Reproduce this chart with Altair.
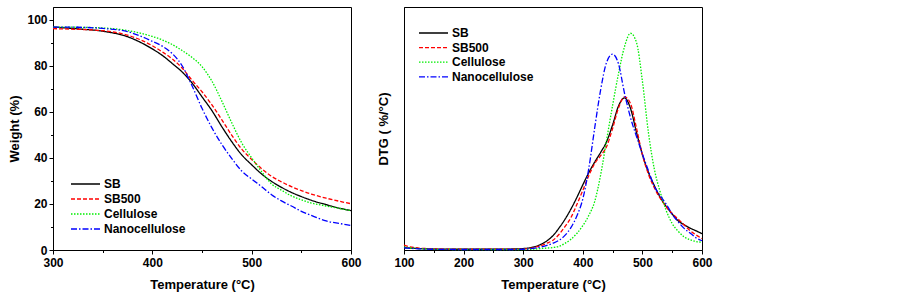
import altair as alt
import pandas as pd

# ---------------- data ----------------
series_names = ["SB", "SB500", "Cellulose", "Nanocellulose"]
series_colors = ["#000000", "#ff0000", "#00ee00", "#0000ff"]
series_dashes = [[1, 0], [4, 2], [1.5, 1.5], [6, 2, 1.5, 2]]

# TGA (left panel)
tga_temp = [300, 325, 350, 375, 400, 410, 420, 430, 440, 450, 460, 470, 480,
            490, 500, 510, 520, 530, 540, 550, 560, 575, 590, 600]
tga_sb = [96.8, 96.0, 95.0, 92.6, 87.3, 84.5, 81.0, 77.3, 72.5, 66.5, 60.5, 53.5,
          47.0, 41.3, 37.0, 33.0, 29.8, 27.2, 25.0, 23.2, 21.6, 19.7, 18.0, 17.1]
tga_sb500 = [96.1, 95.8, 95.2, 93.3, 88.7, 86.0, 83.0, 79.0, 73.7, 68.7, 63.0, 56.5,
             49.8, 43.8, 39.3, 35.3, 32.0, 29.6, 27.5, 25.8, 24.3, 22.5, 21.0, 20.1]
tga_cell = [96.8, 96.7, 96.4, 95.3, 92.7, 91.2, 89.2, 86.6, 83.6, 79.6, 73.3, 64.6,
            55.2, 46.5, 40.0, 34.0, 28.7, 26.0, 23.5, 21.8, 20.4, 19.1, 17.9, 17.1]
tga_nano = [96.8, 96.7, 96.2, 94.8, 90.6, 88.5, 85.3, 80.0, 71.3, 61.5, 53.0, 45.8,
            39.7, 34.3, 30.8, 27.5, 24.0, 21.3, 19.1, 16.8, 15.0, 12.6, 11.4, 10.6]

# DTG (right panel, arbitrary units)
dtg_temp = [100, 110, 125, 150, 200, 250, 280, 300, 320, 340, 350, 360, 370, 380,
            390, 400, 410, 420, 430, 440, 450, 460, 470, 480, 490, 500, 510, 520,
            530, 540, 550, 560, 570, 580, 590, 600]
dtg_sb = [0.9, 0.8, 0.6, 0.4, 0.3, 0.3, 0.4, 0.6, 1.4, 3.8, 5.9, 9.0, 12.6, 16.8,
          21.6, 26.8, 31.8, 36.2, 40.2, 44.6, 51.5, 59.3, 62.6, 58.3, 48.5, 39.3,
          32.0, 26.5, 21.6, 17.9, 14.8, 12.0, 10.4, 9.0, 7.9, 6.7]
dtg_sb500 = [2.0, 1.3, 0.8, 0.5, 0.3, 0.3, 0.3, 0.4, 1.1, 2.8, 4.0, 6.4, 9.6, 13.3,
             18.7, 24.5, 30.6, 35.6, 38.8, 42.6, 50.0, 58.5, 63.0, 60.3, 50.2, 39.2,
             31.3, 25.6, 21.2, 17.8, 15.0, 12.7, 10.3, 8.0, 6.2, 4.7]
dtg_cell = [1.3, 0.9, 0.6, 0.3, 0.2, 0.2, 0.2, 0.2, 0.4, 0.8, 1.0, 1.5, 2.7, 4.4,
            6.8, 10.0, 14.2, 20.0, 31.0, 45.4, 59.5, 72.7, 83.7, 89.2, 85.5, 69.5,
            48.5, 33.3, 23.8, 16.2, 10.9, 7.7, 5.4, 4.2, 3.5, 3.2]
dtg_nano = [0.9, 0.7, 0.5, 0.3, 0.2, 0.2, 0.2, 0.3, 0.8, 1.9, 2.8, 4.0, 6.0, 9.2,
            14.0, 21.0, 33.5, 50.3, 66.0, 77.3, 80.6, 76.5, 64.5, 54.5, 46.8, 39.5,
            32.7, 26.2, 22.3, 18.9, 14.7, 11.6, 8.9, 7.0, 5.0, 3.8]


def long_df(temps, lists):
    rows = []
    for name, vals in zip(series_names, lists):
        for t, v in zip(temps, vals):
            rows.append({"T": t, "v": v, "series": name})
    return pd.DataFrame(rows)


tga_df = long_df(tga_temp, [tga_sb, tga_sb500, tga_cell, tga_nano])
dtg_df = long_df(dtg_temp, [dtg_sb, dtg_sb500, dtg_cell, dtg_nano])

FONT = "Liberation Sans"
color_scale = alt.Scale(domain=series_names, range=series_colors)
dash_scale = alt.Scale(domain=series_names, range=series_dashes)


def legend(x, y, row_pad):
    return alt.Legend(
        title=None, orient="none", legendX=x, legendY=y, padding=0,
        symbolType="stroke", symbolSize=841, symbolStrokeWidth=1.3,
        clipHeight=12,
        labelFont=FONT, labelFontWeight="bold", labelFontSize=12,
        labelColor="black", labelOffset=3, rowPadding=row_pad,
    )


# ---------------- left panel: TGA ----------------
leg_l = legend(17, 171, 3)
left = alt.Chart(tga_df).mark_line(strokeWidth=1.3, interpolate="monotone").encode(
    x=alt.X("T:Q", scale=alt.Scale(domain=[300, 600], nice=False, zero=False),
            axis=alt.Axis(values=[300, 350, 400, 450, 500, 550, 600],
                          labelExpr="datum.value % 100 === 0 ? datum.label : ''",
                          tickSize={"condition": {"test": "datum.value % 100 === 0", "value": 4}, "value": 2.5},
                          labelPadding=3, titlePadding=10,
                          title="Temperature (°C)")),
    y=alt.Y("v:Q", scale=alt.Scale(domain=[0, 105.5], nice=False),
            axis=alt.Axis(values=[0, 10, 20, 30, 40, 50, 60, 70, 80, 90, 100],
                          labelExpr="datum.value % 20 === 0 ? datum.label : ''",
                          tickSize={"condition": {"test": "datum.value % 20 === 0", "value": 4}, "value": 2.5},
                          labelPadding=2, titlePadding=5,
                          title="Weight (%)")),
    color=alt.Color("series:N", scale=color_scale, legend=leg_l),
    strokeDash=alt.StrokeDash("series:N", scale=dash_scale, legend=leg_l),
).properties(width=298, height=243)

# ---------------- right panel: DTG ----------------
leg_r = legend(14, 20, 2.6)
right = alt.Chart(dtg_df).mark_line(strokeWidth=1.3, interpolate="monotone").encode(
    x=alt.X("T:Q", scale=alt.Scale(domain=[100, 600], nice=False, zero=False),
            axis=alt.Axis(values=[100, 150, 200, 250, 300, 350, 400, 450, 500, 550, 600],
                          labelExpr="datum.value % 100 === 0 ? datum.label : ''",
                          tickSize={"condition": {"test": "datum.value % 100 === 0", "value": 4}, "value": 2.5},
                          labelPadding=3, titlePadding=10,
                          title="Temperature (°C)")),
    y=alt.Y("v:Q", scale=alt.Scale(domain=[0, 100], nice=False),
            axis=alt.Axis(labels=False, ticks=False, titlePadding=14,
                          title="DTG ( %/°C)")),
    color=alt.Color("series:N", scale=color_scale, legend=leg_r),
    strokeDash=alt.StrokeDash("series:N", scale=dash_scale, legend=leg_r),
).properties(width=298, height=243)

chart = alt.hconcat(left, right, spacing=53, bounds="flush").resolve_scale(
    color="independent", strokeDash="independent"
).resolve_legend(
    color="independent", strokeDash="independent"
).properties(
    padding={"left": 8, "top": 6, "right": 5, "bottom": 0},
    background="white",
).configure_axis(
    labelFont=FONT, labelFontWeight="bold", labelFontSize=12, labelColor="black",
    titleFont=FONT, titleFontWeight="bold", titleFontSize=13, titleColor="black",
    domainColor="black", tickColor="black", grid=False, labelFlush=False,
).configure_view(stroke="black", strokeWidth=1)

chart.save("out.html", embed_options={"renderer": "svg", "actions": False})
